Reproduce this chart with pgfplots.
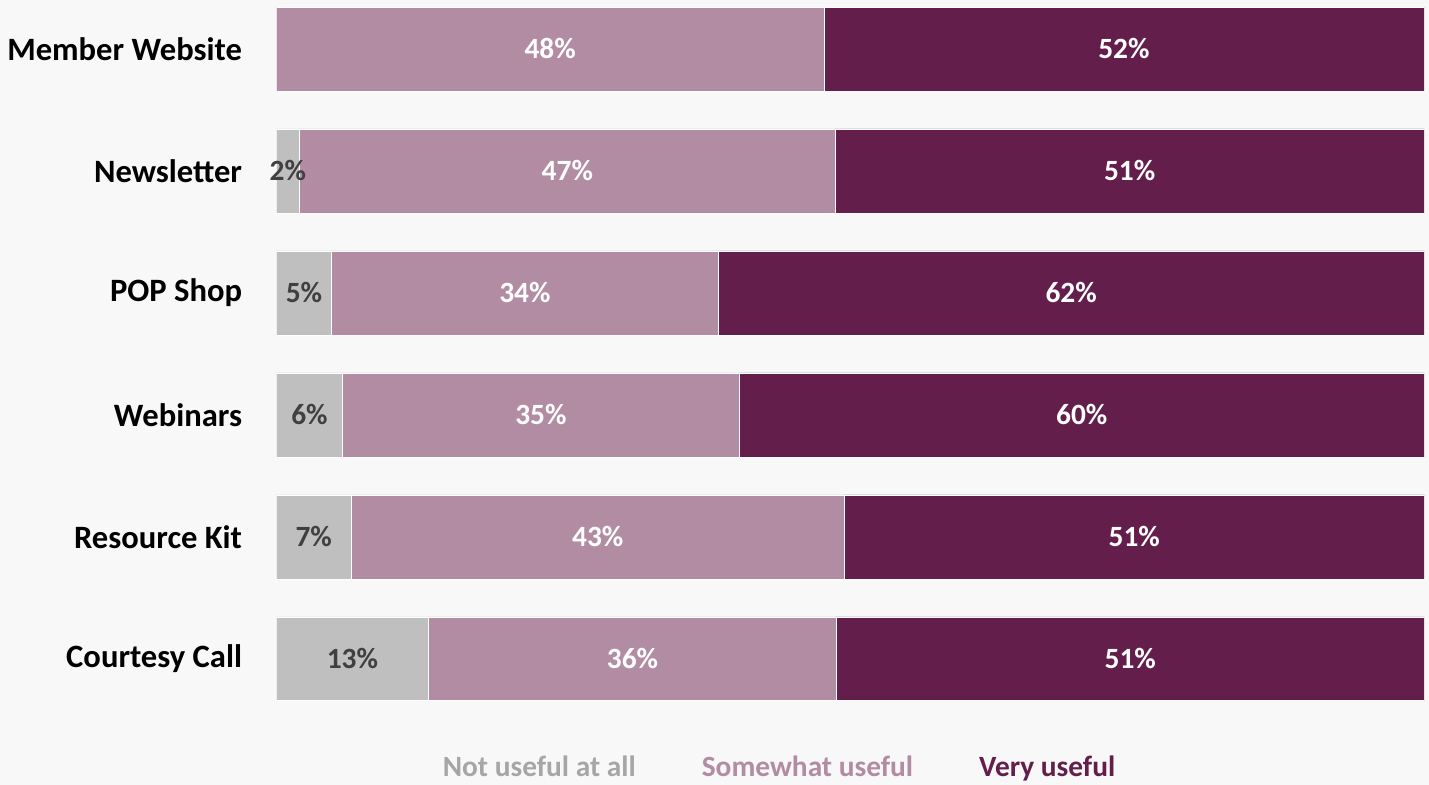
\documentclass[border=0pt]{standalone}
\usepackage{fontspec}
\setmainfont{Carlito}
\usepackage{pgfplots}
\usepackage{pgfplotstable}
\pgfplotsset{compat=1.18}

\definecolor{bgc}{HTML}{F8F8F8}
\definecolor{cgray}{HTML}{BFBFBF}
\definecolor{cmauve}{HTML}{B18CA3}
\definecolor{cdark}{HTML}{641E4B}
\definecolor{lgray}{HTML}{A6A6A6}
\definecolor{ltxt}{HTML}{404040}

% shares of bar width (%), with the printed rounded labels
\pgfplotstableread{
row g     gl    s     sl    v     vl
0   0     {}    47.7  48\%  52.3  52\%
1   2.0   2\%   46.7  47\%  51.3  51\%
2   4.8   5\%   33.7  34\%  61.5  62\%
3   5.75  6\%   34.6  35\%  59.65 60\%
4   6.5   7\%   43.0  43\%  50.5  51\%
5   13.25 13\%  35.55 36\%  51.2  51\%
}\datatable

\begin{document}
\pagecolor{bgc}
\begin{tikzpicture}
\begin{axis}[
  name=ax,
  xbar stacked,
  scale only axis,
  width=574pt, height=347pt,
  xmin=0, xmax=100,
  ymin=-0.344, ymax=5.344,
  y dir=reverse,
  bar width=42pt,
  axis line style={draw=none},
  tick style={draw=none},
  xtick=\empty,
  ytick={0,1,2,3,4,5},
  yticklabels={Member Website,Newsletter,POP Shop,Webinars,Resource Kit,Courtesy Call},
  yticklabel style={font=\fontsize{16.3}{19}\selectfont\bfseries, inner sep=0pt, xshift=-17pt},
  legend image code/.code={},
  legend style={draw=none, fill=none, at={(0.438,-0.096)}, anchor=center,
    legend columns=3, font=\fontsize{14.7}{17}\selectfont\bfseries,
    /tikz/every even column/.append style={column sep=29pt}},
  every node near coord/.append style={font=\fontsize{14.7}{17}\selectfont\bfseries, anchor=center},
]
\addplot[fill=cgray, draw=white, line width=0.3pt,
  nodes near coords, point meta=explicit symbolic,
  every node near coord/.append style={text=ltxt}]
  table[x=g, y=row, meta=gl]{\datatable};
\addlegendentry{\textcolor{lgray}{Not useful at all}}
\addplot[fill=cmauve, draw=white, line width=0.3pt,
  nodes near coords, point meta=explicit symbolic,
  every node near coord/.append style={text=white}]
  table[x=s, y=row, meta=sl]{\datatable};
\addlegendentry{\textcolor{cmauve}{Somewhat useful}}
\addplot[fill=cdark, draw=white, line width=0.3pt,
  nodes near coords, point meta=explicit symbolic,
  every node near coord/.append style={text=white}]
  table[x=v, y=row, meta=vl]{\datatable};
\addlegendentry{\textcolor{cdark}{Very useful}}
\end{axis}
\pgfresetboundingbox
\path[use as bounding box] ([shift={(-136pt,-42pt)}]ax.south west) rectangle ([shift={(2.5pt,3.5pt)}]ax.north east);
\end{tikzpicture}
\end{document}
